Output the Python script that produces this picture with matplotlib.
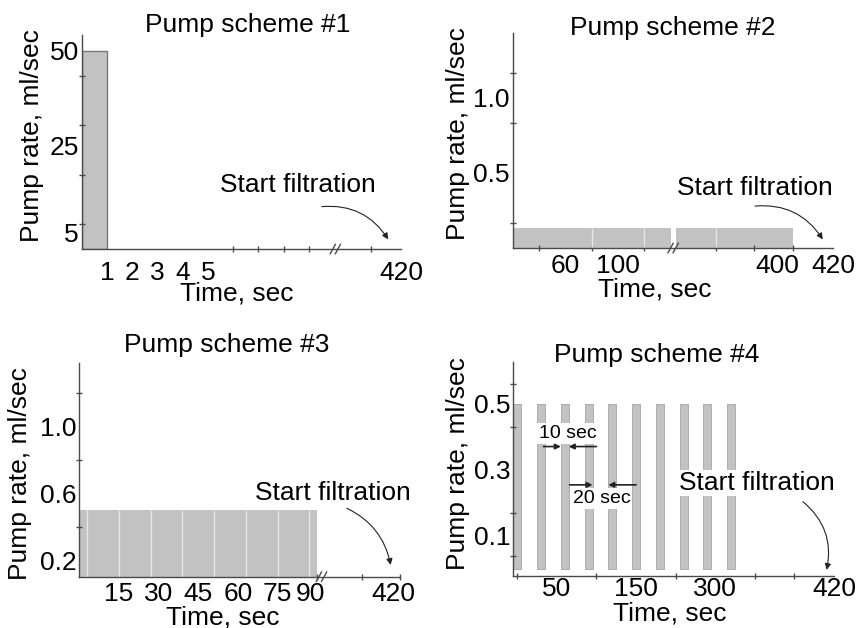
import matplotlib.pyplot as plt
import numpy as np

plt.rcParams['font.family'] = ['Liberation Sans', 'DejaVu Sans']
plt.rcParams['font.size'] = 19

AX_COL = '#4a4a4a'
BAR_COL = '#c2c2c2'
SEP_COL = '#e6e6e6'
W, H = 859, 628

# scheme 1: single 1 sec bolus
s1_start = [0]
s1_dur = [1]
s1_rate = [50]
s1_tick_t = [1, 2, 3, 4, 5, 6, 7, 8, 9, 285, 420]
s1_label_t = [1, 2, 3, 4, 5, 420]
s1_ylabels = ['5', '25', '50']

# scheme 2: low constant rate up to 400 sec
s2_start = [20, 80, 120, 150, 240]
s2_end = [80, 120, 140, 240, 400]
s2_rate = 0.13
s2_tick_t = [40, 60, 80, 100, 120, 240, 320, 400, 420]
s2_label_t = [60, 100, 400, 420]
s2_ylabels = ['0.5', '1.0']

# scheme 3: 0.5 ml/sec for 90 sec
s3_start = [0, 3, 15, 27, 39, 51, 63, 75, 87]
s3_end = [3, 15, 27, 39, 51, 63, 75, 87, 90]
s3_rate = 0.5
s3_tick_t = [15, 30, 45, 60, 75, 90, 270, 420]
s3_label_t = [15, 30, 45, 60, 75, 90, 420]
s3_ylabels = ['0.2', '0.6', '1.0']

# scheme 4: 10 sec pulses every 30 sec
s4_start = [0, 30, 60, 90, 120, 150, 180, 210, 240, 270]
s4_dur = 10
s4_rate = 0.5
s4_tick_t = [5, 55, 105, 155, 205, 255, 305, 355, 405]
s4_label_at = [55, 155, 255, 405]
s4_xlabels = ['50', '150', '300', '420']
s4_ylabels = ['0.1', '0.3', '0.5']

# broken (schematic) time axes: time -> axis position
sc1 = ([0, 9, 285, 420], [0, 9, 11.45, 12.65])
sc2 = ([20, 140, 150, 240, 400, 420], [0, 6, 6.2, 7.72, 10.65, 12.19])
sc3 = ([0, 90, 270, 420], [0, 90, 106.8, 121.25])


def tx(t, sc):
    return np.interp(t, sc[0], sc[1])


def fp(x, y):
    return x / W, 1 - y / H


def style(ax, xlim, ylim, xmarks, xlabpos, xlabs, ymarks, ylabpos, ylabs, xpad):
    ax.set_xlim(*xlim)
    ax.set_ylim(*ylim)
    for s in ['top', 'right']:
        ax.spines[s].set_visible(False)
    for s in ['left', 'bottom']:
        ax.spines[s].set_color(AX_COL)
        ax.spines[s].set_linewidth(1.0)
    ax.set_xticks(xlabpos)
    ax.set_xticklabels(xlabs)
    ax.set_xticks(xmarks, minor=True)
    ax.set_yticks(ylabpos)
    ax.set_yticklabels(ylabs)
    ax.set_yticks(ymarks, minor=True)
    ax.tick_params(which='major', length=0, labelsize=19)
    ax.tick_params(axis='x', which='major', pad=xpad)
    ax.tick_params(axis='y', which='major', pad=2)
    ax.tick_params(which='minor', length=4, width=1, direction='inout', color=AX_COL)
    ax.patch.set_alpha(0)


def brk(ax, x):
    x0, x1 = ax.get_xlim()
    f = (x - x0) / (x1 - x0)
    for d in (-0.008, 0.008):
        ax.plot([f + d - 0.008, f + d + 0.008], [-0.022, 0.022], color=AX_COL,
                lw=1, transform=ax.transAxes, clip_on=False)


def start_filt(ax, txt, a0, a1, rad, box=False):
    kw = dict(boxstyle='square,pad=0.05', fc='white', ec='none') if box else None
    ax.text(txt[0], txt[1], 'Start filtration', transform=ax.transAxes,
            ha='center', va='center', bbox=kw, zorder=5)
    ax.annotate('', xy=a1, xycoords='axes fraction', xytext=a0, textcoords='axes fraction',
                arrowprops=dict(arrowstyle='-|>', color='#222222', lw=0.8, mutation_scale=9,
                                shrinkA=0, shrinkB=0, connectionstyle='arc3,rad=%s' % rad))


fig = plt.figure(figsize=(W / 100, H / 100), dpi=100)
ax1 = fig.add_axes([0.0951, 0.6035, 0.3717, 0.3408])
ax2 = fig.add_axes([0.5969, 0.6051, 0.3732, 0.3424])
ax3 = fig.add_axes([0.0923, 0.0817, 0.3733, 0.3408])
ax4 = fig.add_axes([0.5976, 0.0833, 0.3733, 0.3408])

# --- scheme 1
l1 = tx(np.array(s1_start), sc1)
r1 = tx(np.array(s1_start) + np.array(s1_dur), sc1)
ax1.bar(l1, s1_rate, width=r1 - l1, align='edge', color=BAR_COL, edgecolor='#777777', lw=1)
style(ax1, (0, 12.65), (0, 54), tx(s1_tick_t, sc1), tx(s1_label_t, sc1),
      [str(t) for t in s1_label_t], [6.25, 18.75, 31.25, 43.75], [4.2, 26, 50], s1_ylabels, 8.3)
brk(ax1, 10.05)
start_filt(ax1, (0.677, 0.299), (0.752, 0.198), (0.960, 0.045), -0.3)

# --- scheme 2
l2 = tx(s2_start, sc2)
r2 = tx(s2_end, sc2)
ax2.bar(l2, s2_rate, width=r2 - l2, align='edge', color=BAR_COL, lw=0)
ax2.vlines([l for l in l2 if l in r2], 0, s2_rate, color=SEP_COL, lw=1)
lab2 = tx(s2_label_t, sc2) - np.array([0, 0, 0.6, 0])
style(ax2, (0, 12.19), (0, 1.433), tx(s2_tick_t, sc2), lab2,
      [str(t) for t in s2_label_t], [1 / 6, 0.5, 5 / 6, 7 / 6], [0.5, 1.0], s2_ylabels, 4.3)
brk(ax2, 6.1)
start_filt(ax2, (0.756, 0.279), (0.756, 0.195), (0.967, 0.040), -0.3)

# --- scheme 3
l3 = tx(s3_start, sc3)
r3 = tx(s3_end, sc3)
ax3.bar(l3, s3_rate, width=r3 - l3, align='edge', color=BAR_COL, lw=0)
ax3.vlines(l3[1:], 0, s3_rate, color=SEP_COL, lw=1)
lab3 = tx(s3_label_t, sc3) - np.array([0, 0, 0, 0, 0, 2.6, 2.6])
style(ax3, (0, 121.25), (0.1, 1.384), tx(s3_tick_t, sc3), lab3,
      [str(t) for t in s3_label_t], [0.2, 0.4, 0.6, 0.8, 1.0, 1.2], [0.2, 0.6, 1.0], s3_ylabels, 3.6)
brk(ax3, 91.6)
start_filt(ax3, (0.791, 0.391), (0.834, 0.320), (0.971, 0.055), -0.25)

# --- scheme 4
ax4.bar(s4_start, s4_rate, width=s4_dur, align='edge', color=BAR_COL, edgecolor='#a5a5a5', lw=0.6)
style(ax4, (0, 404.7), (-0.021, 0.627), s4_tick_t, s4_label_at, s4_xlabels,
      [0.04, 0.17, 0.3, 0.43, 0.56], [0.1, 0.3, 0.5], s4_ylabels, 1.0)
start_filt(ax4, (0.759, 0.433), (0.903, 0.346), (0.977, 0.027), -0.3, box=True)

ap = dict(arrowstyle='-|>', color='#222222', lw=1.2, mutation_scale=8, shrinkA=0, shrinkB=0)
ax4.text(69, 0.41, '10 sec', ha='center', va='center', fontsize=14,
         bbox=dict(boxstyle='square,pad=0.1', fc='white', ec='none'), zorder=5)
ax4.annotate('', xy=(60, 0.37), xytext=(38, 0.37), arrowprops=ap, zorder=6)
ax4.annotate('', xy=(70, 0.37), xytext=(105, 0.37), arrowprops=ap, zorder=6)
ax4.text(111.6, 0.213, '20 sec', ha='center', va='center', fontsize=14,
         bbox=dict(boxstyle='square,pad=0.1', fc='white', ec='none'), zorder=5)
ax4.annotate('', xy=(100, 0.254), xytext=(71, 0.254), arrowprops=ap, zorder=6)
ax4.annotate('', xy=(120, 0.254), xytext=(155, 0.254), arrowprops=ap, zorder=6)

# titles and axis labels
titles = ['Pump scheme #1', 'Pump scheme #2', 'Pump scheme #3', 'Pump scheme #4']
title_xy = [(248, 25), (673, 28), (227, 345), (657, 355)]
xlab_xy = [(237, 294), (655, 290), (223, 618), (670, 613)]
ylab_xy = [(32, 136), (458, 134), (20, 474), (458, 464)]
for t, a, b, c in zip(titles, title_xy, xlab_xy, ylab_xy):
    fig.text(*fp(*a), t, ha='center', va='center')
    fig.text(*fp(*b), 'Time, sec', ha='center', va='center')
    fig.text(*fp(*c), 'Pump rate, ml/sec', ha='center', va='center', rotation=90)

fig.savefig('out.png', dpi=100)
